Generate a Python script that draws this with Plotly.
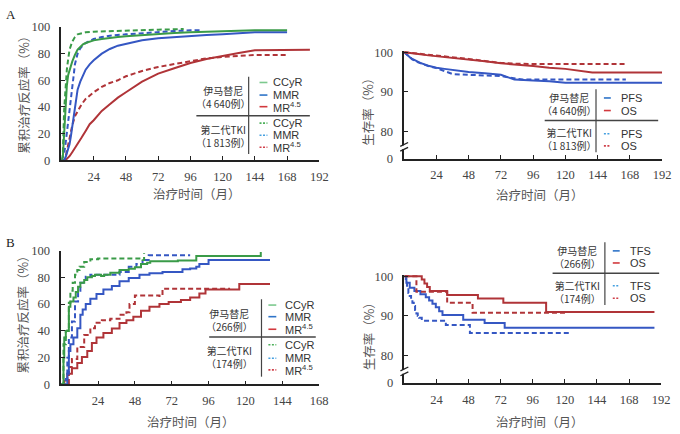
import plotly.graph_objects as go

W, H = 680, 434

# ---------------- Panel A (left): cumulative response ----------------
a_ccyr_ima_t = [0, 1, 2, 3, 4, 5, 6, 8, 10, 12, 14, 16, 18, 21, 24, 30, 36, 42, 48, 60, 72, 84, 96, 108, 120, 144, 168]
a_ccyr_ima_v = [0, 2, 20, 42, 56, 64, 68, 74, 79, 83, 85, 87, 88, 89, 90, 91, 92, 92.5, 93, 94, 95, 95.5, 96, 96.5, 97, 97.5, 97.5]
a_ccyr_2g_t = [0, 1, 2, 3, 4, 5, 6, 8, 10, 12, 15, 18, 24, 36, 48, 72, 91]
a_ccyr_2g_v = [0, 5, 38, 58, 68, 76, 83, 89, 92.5, 94.5, 95.5, 96, 96.5, 97, 97.5, 98, 98.5]
a_mmr_ima_t = [0, 2, 3, 4, 5, 6, 7, 8, 9, 10, 11, 12, 14, 16, 18, 21, 24, 30, 36, 42, 48, 60, 72, 84, 96, 108, 120, 132, 144, 168]
a_mmr_ima_v = [0, 0, 2, 5, 8, 12, 18, 25, 33, 42, 49, 53, 59, 64, 68, 72, 75, 80, 83.5, 86, 87.5, 90, 91.5, 92.5, 93, 94, 94.5, 95.5, 96, 96]
a_mmr_2g_t = [0, 2, 3, 4, 5, 6, 7, 8, 9, 10, 12, 14, 16, 18, 24, 30, 36, 48, 60, 72, 84, 96, 103]
a_mmr_2g_v = [0, 5, 12, 20, 27, 35, 46, 55, 63, 72, 80, 84, 86.5, 88, 91, 92.5, 93.5, 94.5, 95.5, 96, 97, 97.5, 97.5]
a_mr_ima_t = [0, 3, 4, 6, 8, 10, 12, 15, 18, 21, 24, 30, 36, 42, 48, 54, 60, 66, 72, 84, 96, 108, 120, 132, 144, 168, 185]
a_mr_ima_v = [0, 0, 1, 3, 6, 9, 12, 17, 22, 27, 30, 37, 42, 47, 51, 55, 59, 62, 65, 69, 73, 76, 78.5, 80.5, 82.5, 83, 83]
a_mr_2g_t = [0, 2, 3, 4, 5, 6, 8, 10, 12, 15, 18, 24, 30, 36, 42, 48, 54, 60, 72, 84, 96, 108, 120, 132, 144, 168]
a_mr_2g_v = [0, 0, 2, 7, 13, 18, 26, 33, 37, 42, 46, 51, 55, 58, 60, 63, 65, 67, 70, 72, 74.5, 76.5, 77.5, 78.5, 79, 79]

# ---------------- Panel A (right): survival ----------------
a_pfs_ima_t = [0, 2, 4, 6, 8, 12, 18, 24, 30, 36, 48, 60, 72, 78, 82, 96, 108, 120, 192]
a_pfs_ima_v = [100, 99.3, 98.8, 98.3, 97.9, 97.3, 96.6, 96.1, 95.8, 95.5, 95.0, 94.7, 94.3, 93.6, 93.1, 92.9, 92.7, 92.3, 92.3]
a_pfs_2g_t = [0, 3, 6, 9, 12, 18, 24, 30, 36, 48, 60, 72, 88, 165]
a_pfs_2g_v = [100, 99.0, 98.2, 97.6, 97.2, 96.5, 96.0, 95.3, 94.5, 94.3, 94.2, 94.0, 93.1, 93.1]
a_os_ima_t = [0, 6, 12, 18, 24, 36, 48, 60, 72, 84, 96, 108, 120, 140, 192]
a_os_ima_v = [100, 99.8, 99.5, 99.2, 99.0, 98.6, 98.2, 97.7, 97.2, 96.9, 96.5, 96.1, 95.8, 94.9, 94.9]
a_os_2g_t = [0, 12, 24, 36, 48, 60, 72, 84, 96, 165]
a_os_2g_v = [100, 99.6, 99.2, 98.8, 98.3, 97.8, 97.3, 97.1, 97.0, 97.0]

# ---------------- Panel B (left): cumulative response ----------------
b_ccyr_ima_t = [0, 1.5, 2, 3, 5, 6, 8, 9.5, 11, 12.5, 15, 17, 20, 22, 26, 28, 32, 38, 44, 48, 52, 56, 58, 76, 88, 130]
b_ccyr_ima_v = [0, 20, 35, 40, 58, 62, 65, 69, 73, 76, 78, 80, 81, 82, 81, 82, 83.5, 85.5, 86.5, 87.5, 90, 91, 92, 92.5, 96, 99]
b_ccyr_2g_t = [0, 1.5, 3, 4, 5, 6, 7.5, 9, 10.5, 12, 15, 19, 24, 48, 53, 54]
b_ccyr_2g_v = [0, 30, 40, 42, 61, 70, 76, 82, 85.5, 88, 91.5, 93.5, 94, 94, 93, 98]
b_mmr_ima_t = [0, 3, 4, 5, 6, 8, 10.5, 12.5, 14, 16, 19, 23, 27.5, 33, 38, 44, 51, 57.5, 66, 79, 84, 88, 90, 96, 136]
b_mmr_ima_v = [0, 0, 8, 25, 30, 35, 42, 52, 56, 60, 64, 67.5, 71, 73.5, 77, 79.5, 82, 83, 84, 86, 86.7, 88, 90, 93, 93]
b_mmr_2g_t = [0, 3, 4, 5, 7, 9, 11, 12.5, 16, 19, 28, 38, 44, 49, 53, 57, 84]
b_mmr_2g_v = [0, 4, 20, 35, 47, 62, 70, 76, 80.5, 82, 82, 84, 88, 90, 93, 96.5, 96.5]
b_mr_ima_t = [0, 2, 4, 7, 10.5, 13.5, 17, 20, 23, 27.5, 33, 38, 42.5, 47, 52, 57.5, 64, 70, 78, 84, 90, 94, 116, 136]
b_mr_ima_v = [0, 3, 8, 12, 16, 20.5, 25, 31, 35, 38.5, 41.7, 45.8, 48, 50.6, 55, 58, 60, 61.5, 63, 65, 68, 71, 75, 75]
b_mr_2g_t = [0, 3, 5, 7, 10.5, 15, 19, 22, 26.5, 32, 38, 42.5, 44.5, 48, 64, 66, 110]
b_mr_2g_v = [0, 1, 13, 19, 28, 37, 42, 46, 48, 49, 52, 54, 60, 66.5, 66, 71.5, 71.5]

# ---------------- Panel B (right): survival ----------------
b_tfs_ima_t = [0, 1.5, 4, 7.5, 12, 16, 18.5, 21, 23.5, 26, 28.5, 44, 60, 75, 187]
b_tfs_ima_v = [100, 98.4, 97.1, 96.3, 95.5, 94.7, 93.9, 93.1, 92.2, 91.2, 90.2, 89.0, 88.2, 87.0, 87.0]
b_tfs_2g_t = [0, 1, 2, 3, 4, 5, 6, 7, 8, 9, 10, 11, 13, 31, 49, 124]
b_tfs_2g_v = [100, 98.8, 97.0, 95.8, 95.0, 94.0, 93.3, 92.5, 91.5, 90.6, 90.0, 89.5, 88.8, 87.7, 85.7, 85.7]
b_os_ima_t = [0, 12, 13, 15, 17, 19, 32, 55, 74, 106, 187]
b_os_ima_v = [100, 100, 99.2, 98.2, 97.3, 96.3, 95.3, 94.4, 93.3, 91.0, 91.0]
b_os_2g_t = [0, 9, 32, 51, 122]
b_os_2g_v = [100, 96.1, 93.3, 90.8, 90.8]

x_ticks_a = [24, 48, 72, 96, 120, 144, 168, 192]
x_ticks_b = [24, 48, 72, 96, 120, 144, 168]
y_ticks_resp = [0, 20, 40, 60, 80, 100]
y_ticks_surv = [73.2, 80, 90, 100]
y_ticks_surv_text = ["0", "80", "90", "100"]

GREEN, BLUE, RED = "#3a9b48", "#3557c3", "#b03438"
LG_GREEN, LG_BLUE, LG_RED = "#7cc98e", "#2f74c8", "#d2393d"
LD_GREEN, LD_BLUE, LD_RED = "#4cb05a", "#45a0e0", "#d0404a"

SERIF = "Liberation Serif, Times New Roman, serif"
SANS = "Liberation Sans, Arial, Noto Sans CJK SC, sans-serif"
CJK = "Noto Sans CJK SC, sans-serif"


def X(px):
    return px / W


def Y(py):
    return 1 - py / H


fig = go.Figure()


def add(t, v, color, dashed, xa, ya, shape="hv"):
    fig.add_trace(go.Scatter(
        x=t, y=v, mode="lines", line_shape=shape,
        line=dict(color=color, width=2, dash="5px,3px" if dashed else "solid"),
        xaxis=xa, yaxis=ya, showlegend=False, hoverinfo="skip"))


# panel A left (x, y) - dense KM curves, drawn smooth
add(a_mr_ima_t, a_mr_ima_v, RED, False, "x", "y", "linear")
add(a_mr_2g_t, a_mr_2g_v, RED, True, "x", "y", "linear")
add(a_mmr_ima_t, a_mmr_ima_v, BLUE, False, "x", "y", "linear")
add(a_mmr_2g_t, a_mmr_2g_v, BLUE, True, "x", "y", "linear")
add(a_ccyr_ima_t, a_ccyr_ima_v, GREEN, False, "x", "y", "linear")
add(a_ccyr_2g_t, a_ccyr_2g_v, GREEN, True, "x", "y", "linear")
# panel A right (x2, y2)
add(a_pfs_ima_t, a_pfs_ima_v, BLUE, False, "x2", "y2", "linear")
add(a_pfs_2g_t, a_pfs_2g_v, BLUE, True, "x2", "y2", "linear")
add(a_os_ima_t, a_os_ima_v, RED, False, "x2", "y2", "linear")
add(a_os_2g_t, a_os_2g_v, RED, True, "x2", "y2", "linear")
# panel B left (x3, y3)
add(b_mr_ima_t, b_mr_ima_v, RED, False, "x3", "y3")
add(b_mr_2g_t, b_mr_2g_v, RED, True, "x3", "y3")
add(b_mmr_ima_t, b_mmr_ima_v, BLUE, False, "x3", "y3")
add(b_mmr_2g_t, b_mmr_2g_v, BLUE, True, "x3", "y3")
add(b_ccyr_ima_t, b_ccyr_ima_v, GREEN, False, "x3", "y3")
add(b_ccyr_2g_t, b_ccyr_2g_v, GREEN, True, "x3", "y3")
# panel B right (x4, y4)
add(b_tfs_ima_t, b_tfs_ima_v, BLUE, False, "x4", "y4")
add(b_tfs_2g_t, b_tfs_2g_v, BLUE, True, "x4", "y4")
add(b_os_ima_t, b_os_ima_v, RED, False, "x4", "y4")
add(b_os_2g_t, b_os_2g_v, RED, True, "x4", "y4")

axis_common = dict(showline=True, linecolor="#222", linewidth=1.5, ticks="inside",
                   ticklen=4, tickcolor="#222", tickwidth=1.2, showgrid=False,
                   zeroline=False, tickfont=dict(family=SERIF, size=12.5, color="#444"))

fig.update_layout(
    xaxis=dict(domain=[X(62.3), X(323.6)], range=[0, 192], tickvals=x_ticks_a,
               anchor="y", ticklabelstandoff=4, **axis_common),
    yaxis=dict(domain=[Y(158.3), Y(20.7)], range=[0, 100], tickvals=y_ticks_resp,
               anchor="x", ticklabelstandoff=7, **axis_common),
    xaxis2=dict(domain=[X(409.6), X(671)], range=[0, 192], tickvals=x_ticks_a,
                anchor="y2", ticklabelstandoff=4, **axis_common),
    yaxis2=dict(domain=[Y(156.7), Y(46.7 - 0.4 * 4.1)], range=[73.2, 100.4], tickvals=y_ticks_surv,
                ticktext=y_ticks_surv_text, anchor="x2", ticklabelstandoff=7, **axis_common),
    xaxis3=dict(domain=[X(62), X(323.4)], range=[0, 168], tickvals=x_ticks_b,
                anchor="y3", ticklabelstandoff=4, **axis_common),
    yaxis3=dict(domain=[Y(390), Y(251.7)], range=[0, 100], tickvals=y_ticks_resp,
                anchor="x3", ticklabelstandoff=7, **axis_common),
    xaxis4=dict(domain=[X(409.8), X(670)], range=[0, 192], tickvals=x_ticks_a,
                anchor="y4", ticklabelstandoff=4, **axis_common),
    yaxis4=dict(domain=[Y(388.3), Y(278.3 - 0.4 * 4.08)], range=[73.1, 100.4], tickvals=y_ticks_surv,
                ticktext=y_ticks_surv_text, anchor="x4", ticklabelstandoff=7, **axis_common),
    width=W, height=H, margin=dict(l=0, r=0, t=0, b=0),
    paper_bgcolor="white", plot_bgcolor="white", showlegend=False,
)

annotations = []
shapes = []


def text(px, py, s, size=11, family=SANS, color="#333", xanchor="center", angle=0):
    annotations.append(dict(x=X(px), y=Y(py), xref="paper", yref="paper", text=s,
                            showarrow=False, xanchor=xanchor, yanchor="middle",
                            textangle=angle, font=dict(family=family, size=size, color=color)))


def line(x0, y0, x1, y1, color="#444", width=1.2, dash="solid"):
    shapes.append(dict(type="line", xref="paper", yref="paper", x0=X(x0), y0=Y(y0),
                       x1=X(x1), y1=Y(y1), line=dict(color=color, width=width, dash=dash)))


# panel letters
text(4, 8, "A", size=13, family=SERIF, color="#222", xanchor="left")
text(4, 243, "B", size=13, family=SERIF, color="#222", xanchor="left")

# axis titles
xt = "治疗时间（月）"
text(200, 193, xt, size=12.5, family=CJK, color="#555")
text(547, 194, xt, size=12.5, family=CJK, color="#555")
text(194, 428, xt, size=12.5, family=CJK, color="#555")
text(547, 428, xt, size=12.5, family=CJK, color="#555")
text(23, 88, "累积治疗反应率（%）", size=12.5, family=CJK, color="#555", angle=-90)
text(373, 105, "生存率（%）", size=12.5, family=CJK, color="#555", angle=-90)
text(23, 315, "累积治疗反应率（%）", size=12.5, family=CJK, color="#555", angle=-90)
text(373, 337, "生存率（%）", size=12.5, family=CJK, color="#555", angle=-90)


def legend(vx, vy0, vy1, hx0, hx1, hy, cx, grp, sx0, sx1, lx, entries):
    line(vx, vy0, vx, vy1)
    line(hx0, hy, hx1, hy, width=1.5)
    for (py, s) in grp:
        text(cx, py, s, size=10, family=CJK, color="#333")
    for (py, lab, col, dotted) in entries:
        line(sx0, py, sx1, py, color=col, width=1.6, dash="2px,1.5px" if dotted else "solid")
        text(lx, py, lab, size=11, xanchor="left")


legend(252, 72, 152, 199, 314, 112.5, 226,
       [(93.3, "伊马替尼<br>（4 640例）"), (133, "第二代TKI<br>（1 813例）")],
       263, 271, 275,
       [(78, "CCyR", LG_GREEN, False), (91, "MMR", LG_BLUE, False), (103, "MR<sup>4.5</sup>", LG_RED, False),
        (120, "CCyR", LD_GREEN, True), (132.5, "MMR", LD_BLUE, True), (145, "MR<sup>4.5</sup>", LD_RED, True)])

legend(604, 85, 150, 552, 667, 117.3, 577,
       [(100.3, "伊马替尼<br>（4 640例）"), (136.3, "第二代TKI<br>（1 813例）")],
       612, 619, 627,
       [(94, "PFS", LG_BLUE, False), (107, "OS", LG_RED, False),
        (131, "PFS", LD_BLUE, True), (143.5, "OS", LD_RED, True)])

legend(265, 302, 382, 212, 320, 341, 233,
       [(323.8, "伊马替尼<br>（266例）"), (361.5, "第二代TKI<br>（174例）")],
       272, 280, 287,
       [(308, "CCyR", LG_GREEN, False), (320, "MMR", LG_BLUE, False), (333, "MR<sup>4.5</sup>", LG_RED, False),
        (349, "CCyR", LD_GREEN, True), (363, "MMR", LD_BLUE, True), (375, "MR<sup>4.5</sup>", LD_RED, True)])

legend(613, 243, 308, 560, 668, 275, 585,
       [(258.3, "伊马替尼<br>（266例）"), (294.5, "第二代TKI<br>（174例）")],
       621, 628, 636,
       [(252, "TFS", LG_BLUE, False), (264.5, "OS", LG_RED, False),
        (288, "TFS", LD_BLUE, True), (301, "OS", LD_RED, True)])


# axis break marks on survival panels
def axis_break(ax, cy):
    shapes.append(dict(type="rect", xref="paper", yref="paper", x0=X(ax - 3), x1=X(ax + 3),
                       y0=Y(cy + 2), y1=Y(cy - 2), line=dict(width=0), fillcolor="white"))
    line(ax - 4, cy - 1, ax + 4, cy - 5, color="#222", width=1.3)
    line(ax - 4, cy + 4, ax + 4, cy, color="#222", width=1.3)


axis_break(409.6, 145)
axis_break(409.8, 377)

fig.update_layout(annotations=annotations, shapes=shapes)
fig.write_html("out.html")
